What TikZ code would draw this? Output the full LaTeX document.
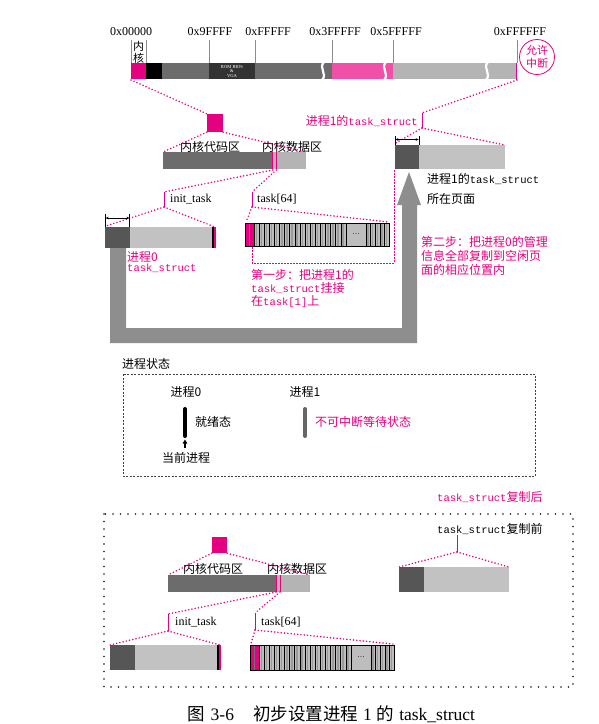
\documentclass[tikz,border=0pt]{standalone}
\usepackage{fontspec}
\setmainfont{Liberation Serif}
\setmonofont{Liberation Mono}
\newfontfamily\cjk{Noto Sans CJK SC}
\usetikzlibrary{arrows.meta}
\definecolor{mag}{HTML}{E4007F}
\definecolor{pinkm}{HTML}{F050A8}
\definecolor{dg}{HTML}{6C6C6C}
\definecolor{lg}{HTML}{B4B4B4}
\definecolor{vdg}{HTML}{333333}
\definecolor{tsd}{HTML}{565656}
\definecolor{tsl}{HTML}{C2C2C2}
\definecolor{arg}{HTML}{8E8E8E}
\definecolor{cellg}{HTML}{BDBDBD}
\definecolor{celld}{HTML}{9A9A9A}
\newcommand\ts{{\ttfamily\fontsize{10.5}{12}\selectfont task\_struct}}
\newcommand\tarr[4]{%
  \begin{scope}[shift={(#1,#2)}]
    \fill[cellg] (0,0) rectangle (144,#3);
    \foreach \i in {0,...,17}{%
      \pgfmathsetmacro\xa{9+\i*5.111}%
      \fill[celld] (\xa+1.6,0) rectangle (\xa+3.0,#3);
      \draw[line width=0.6pt] (\xa,0) -- (\xa,#3);}
    \foreach \i in {0,...,4}{%
      \pgfmathsetmacro\xa{121+\i*4.6}%
      \fill[celld] (\xa+1.4,0) rectangle (\xa+2.7,#3);
      \draw[line width=0.6pt] (\xa,0) -- (\xa,#3);}
    \fill[mag] (0,0) rectangle (9,#3);
    \draw[line width=0.4pt, black!55] (4.5,0) -- (4.5,#3);
    \fill[cellg] (101.3,0.5) rectangle (120.7,#3-0.5);
    \draw[line width=0.6pt] (101,0) -- (101,#3);
    \node[inner sep=0, font=\fontsize{10}{10}\selectfont, text=black!70] (#4) at (111,#3/2) {...};
    \draw[line width=0.8pt] (0,0) rectangle (144,#3);
  \end{scope}}
\begin{document}
\begin{tikzpicture}[x=1pt,y=-1pt,
  pd/.style={draw=mag, line width=1.7pt, dash pattern=on 0pt off 3.3pt, line cap=round},
  brk/.style={draw=mag, line width=0.8pt},
  tickl/.style={draw=black!45, line width=0.4pt},
  hex/.style={inner sep=0pt, font=\fontsize{12}{12}\selectfont},
  cj/.style={inner sep=0pt, font=\cjk\fontsize{12}{12}\selectfont},
  mix/.style={inner sep=0pt, font=\fontsize{12}{12}\selectfont},
  pk/.style={text=mag},
  dimarr/.style={{Stealth[length=3pt,width=2.6pt]}-{Stealth[length=3pt,width=2.6pt]}, line width=0.5pt},
  wave/.style={draw=white, line width=2.2pt}
]
\useasboundingbox (0,0) rectangle (599,724);

% ---------------- top memory bar ----------------
\foreach \x in {131,146,209,255,332,393}{\draw[tickl] (\x,40) -- (\x,63);}
\draw[tickl] (517,40) -- (517,63);
\fill[mag] (131,63) rectangle (146,79);
\fill[black] (146,63) rectangle (162,79);
\fill[dg] (162,63) rectangle (209,79);
\fill[vdg] (209,63) rectangle (255,79);
\fill[dg] (255,63) rectangle (332,79);
\fill[pinkm] (332,63) rectangle (393,79);
\fill[lg] (393,63) rectangle (517,79);
\draw[mag, line width=1pt] (516.5,63) -- (516.5,80);
\draw[wave] (324,62) .. controls (318,68) and (328,74) .. (322,80);
\draw[wave] (386,62) .. controls (380,68) and (390,74) .. (384,80);
\draw[wave] (488,62) .. controls (482,68) and (492,74) .. (486,80);
\node[inner sep=0, text=white, align=center, font=\fontsize{4.6}{4.4}\selectfont] (rom) at (232,71.5) {ROM BIOS\\\&\\VGA};

\node[hex] (h0) at (131,32) {0x00000};
\node[hex] (h1) at (210,32) {0x9FFFF};
\node[hex] (h2) at (268,32) {0xFFFFF};
\node[hex] (h3) at (335,32) {0x3FFFFF};
\node[hex] (h4) at (396,32) {0x5FFFFF};
\node[hex] (h5) at (520,32) {0xFFFFFF};
\node[cj, font=\cjk\fontsize{11}{11}\selectfont] (nei) at (138.5,46) {内};
\node[cj, font=\cjk\fontsize{11}{11}\selectfont] (he) at (138.5,58) {核};
\node[circle, draw=mag, line width=0.8pt, minimum size=35pt, inner sep=0pt, text=mag, align=center,
      font=\cjk\fontsize{11}{12.5}\selectfont] (irq) at (537,57) {允许\\中断};

\coordinate (m0) at (131,80);
\coordinate (m1) at (517,80);

% ---------------- upper kernel layout ----------------
\node[fill=mag, minimum width=16pt, minimum height=18pt, inner sep=0pt] (ksq) at (215,123) {};
\fill[dg] (163,152) rectangle (272,169);
\fill[lg] (272,152) rectangle (306,169);
\draw[mag, line width=0.8pt] (272.8,152) -- (272.8,169) (276.3,152) -- (276.3,169);
\coordinate (kl) at (163,152);
\coordinate (kr) at (306,152);
\coordinate (kd1) at (272.8,170);
\coordinate (kd2) at (276.3,170);
\node[cj] (kcode) at (210,147) {内核代码区};
\node[cj] (kdata) at (292,147) {内核数据区};
\draw[pd] (m0) -- (ksq.north west);
\draw[pd] (ksq.south west) -- (kl);
\draw[pd] (ksq.south east) -- (kr);

% process 1 task_struct (right)
\coordinate (b1t) at (422,113);
\coordinate (b1b) at (422,128);
\draw[brk] (b1t) -- (b1b);
\node[mix, pk, anchor=east] (p1lab) at (418,121) {{\cjk 进程1的}\ts};
\draw[pd] (m1) -- (b1t);
\fill[tsd] (395,145) rectangle (419,169);
\fill[tsl] (419,145) rectangle (505,169);
\coordinate (t1l) at (396,143);
\coordinate (t1r) at (505,145);
\coordinate (t1bl) at (394,170);
\draw[pd] (b1b) -- (t1l);
\draw[pd] (b1b) -- (t1r);
\draw[line width=0.5pt] (395,135.5) -- (395,145) (419,135.5) -- (419,145);
\draw[dimarr] (395.3,139.5) -- (418.7,139.5);
\node[mix, anchor=west] (p1pg1) at (427,179) {{\cjk 进程1的}\ts};
\node[cj, anchor=west] (p1pg2) at (427,199) {所在页面};

% big gray arrow
\fill[arg] (110,248) -- (110,343) -- (417,343) -- (417,205) -- (421,205) -- (409,172)
  -- (397,205) -- (402,205) -- (402,328) -- (126,328) -- (126,248) -- cycle;

% init_task
\coordinate (it) at (164,192);
\coordinate (ib) at (164,207);
\draw[brk] (it) -- (ib);
\node[hex, anchor=west] (initlab) at (170,199) {init\_task};
\draw[pd] (kd1) -- (it);
\fill[tsd] (105,227) rectangle (130,248);
\fill[tsl] (130,227) rectangle (212,248);
\fill[black] (212,227) rectangle (213.5,248);
\fill[mag] (213.5,227) rectangle (215.5,248);
\coordinate (il) at (106,226);
\coordinate (ir) at (215,227);
\draw[pd] (ib) -- (il);
\draw[pd] (ib) -- (ir);
\draw[line width=0.5pt] (105.3,213.5) -- (105.3,227) (129.7,213.5) -- (129.7,227);
\draw[dimarr] (105.6,218) -- (129.4,218);

% task[64]
\coordinate (tt) at (252,192);
\coordinate (tb) at (252,207);
\draw[brk] (tt) -- (tb);
\node[hex, anchor=west] (tasklab) at (257,199) {task[64]};
\draw[pd] (kd2) -- (tt);
\tarr{245}{223}{23}{dots1}
\coordinate (al) at (246,222);
\coordinate (ar) at (389,222);
\draw[pd] (tb) -- (al);
\draw[pd] (tb) -- (ar);
\coordinate (tk1) at (252,247);
\draw[mag, line width=0.9pt, dash pattern=on 1.6pt off 1.4pt] (tk1) -- (252,263) -- (394,263) -- (t1bl);

% pink notes
\node[mix, pk, anchor=west] (p0a) at (127,257) {{\cjk 进程0}};
\node[mix, pk, anchor=west] (p0b) at (127,268.5) {\ts};
\node[mix, pk, anchor=west] (s1a) at (251,275) {{\cjk 第一步：把进程1的}};
\node[mix, pk, anchor=west] (s1b) at (251,288.5) {\ts{\cjk 挂接}};
\node[mix, pk, anchor=west] (s1c) at (251,302) {{\cjk 在}{\ttfamily\fontsize{10.5}{12}\selectfont task[1]}{\cjk 上}};
\node[mix, pk, anchor=west] (s2a) at (421,242) {{\cjk 第二步：把进程0的管理}};
\node[mix, pk, anchor=west] (s2b) at (421,256) {{\cjk 信息全部复制到空闲页}};
\node[mix, pk, anchor=west] (s2c) at (421,270) {{\cjk 面的相应位置内}};

% ---------------- process state ----------------
\node[cj, anchor=west] (pst) at (122,364) {进程状态};
\draw[black!75, line width=0.6pt, dash pattern=on 2pt off 1.5pt] (123,374) rectangle (535,476);
\node[cj] (ps0) at (186,392) {进程0};
\draw[line width=4pt, line cap=round] (185,409) -- (185,436);
\coordinate (cur0) at (185,448);
\coordinate (cur1) at (185,439.5);
\draw[-{Triangle[width=4.5pt,length=4pt]}, line width=1.3pt] (cur0) -- (cur1);
\node[cj, anchor=west] (ready) at (195,422) {就绪态};
\node[cj] (curp) at (186,458) {当前进程};
\node[cj] (ps1) at (305,392) {进程1};
\draw[black!60, line width=4pt, line cap=round] (305,409) -- (305,436);
\node[cj, pk, anchor=west] (unint) at (315,422) {不可中断等待状态};

% ---------------- bottom box ----------------
\node[mix, pk, anchor=west] (after) at (437,497) {\ts{\cjk 复制后}};
\draw[black!90, line width=1.8pt, dash pattern=on 0pt off 7.5pt, line cap=round] (104,514) rectangle (573,687);
\node[mix, anchor=west] (before) at (437,529) {\ts{\cjk 复制前}};
\coordinate (b2t) at (457,535);
\coordinate (b2b) at (457,552);
\draw[brk] (b2t) -- (b2b);
\fill[tsd] (399,567) rectangle (424,592);
\fill[tsl] (424,567) rectangle (509,592);
\coordinate (t2l) at (399,567);
\coordinate (t2r) at (509,567);
\draw[pd] (b2b) -- (t2l);
\draw[pd] (b2b) -- (t2r);

\node[fill=mag, minimum width=15pt, minimum height=16pt, inner sep=0pt] (ksq2) at (219.5,545) {};
\fill[dg] (168,575) rectangle (275.5,592);
\fill[lg] (275.5,575) rectangle (310,592);
\draw[mag, line width=0.8pt] (276,575) -- (276,592) (280,575) -- (280,592);
\coordinate (kl2) at (168,575);
\coordinate (kr2) at (310,575);
\coordinate (kd3) at (276,592);
\coordinate (kd4) at (280,592);
\node[cj] (kcode2) at (213,569) {内核代码区};
\node[cj] (kdata2) at (297,569) {内核数据区};
\draw[pd] (ksq2.south west) -- (kl2);
\draw[pd] (ksq2.south east) -- (kr2);

\coordinate (it2) at (168,614);
\coordinate (ib2) at (168,631);
\draw[brk] (it2) -- (ib2);
\node[hex, anchor=west] (initlab2) at (175,622) {init\_task};
\draw[pd] (kd3) -- (it2);
\fill[tsd] (110,645) rectangle (135,670);
\fill[tsl] (135,645) rectangle (217,670);
\fill[black] (217,645) rectangle (218.5,670);
\fill[mag] (218.5,645) rectangle (220.5,670);
\coordinate (il2) at (110,645);
\coordinate (ir2) at (220,645);
\draw[pd] (ib2) -- (il2);
\draw[pd] (ib2) -- (ir2);

\coordinate (tt2) at (255,613);
\coordinate (tb2) at (255,630);
\draw[brk] (tt2) -- (tb2);
\node[hex, anchor=west] (tasklab2) at (261,622) {task[64]};
\draw[pd] (kd4) -- (tt2);
\tarr{250}{645}{25}{dots2}
\coordinate (al2) at (251,644);
\coordinate (ar2) at (393,644);
\draw[pd] (tb2) -- (al2);
\draw[pd] (tb2) -- (ar2);

% caption
\node[inner sep=0pt, anchor=west, font=\fontsize{17.5}{18}\selectfont] (cap) at (187,714)
  {{\cjk 图}\hspace{6pt}3-6\hspace{19pt}{\cjk 初步设置进程}\hspace{5pt}1\hspace{5pt}{\cjk 的}\hspace{5pt}task\_struct};
\end{tikzpicture}
\end{document}
